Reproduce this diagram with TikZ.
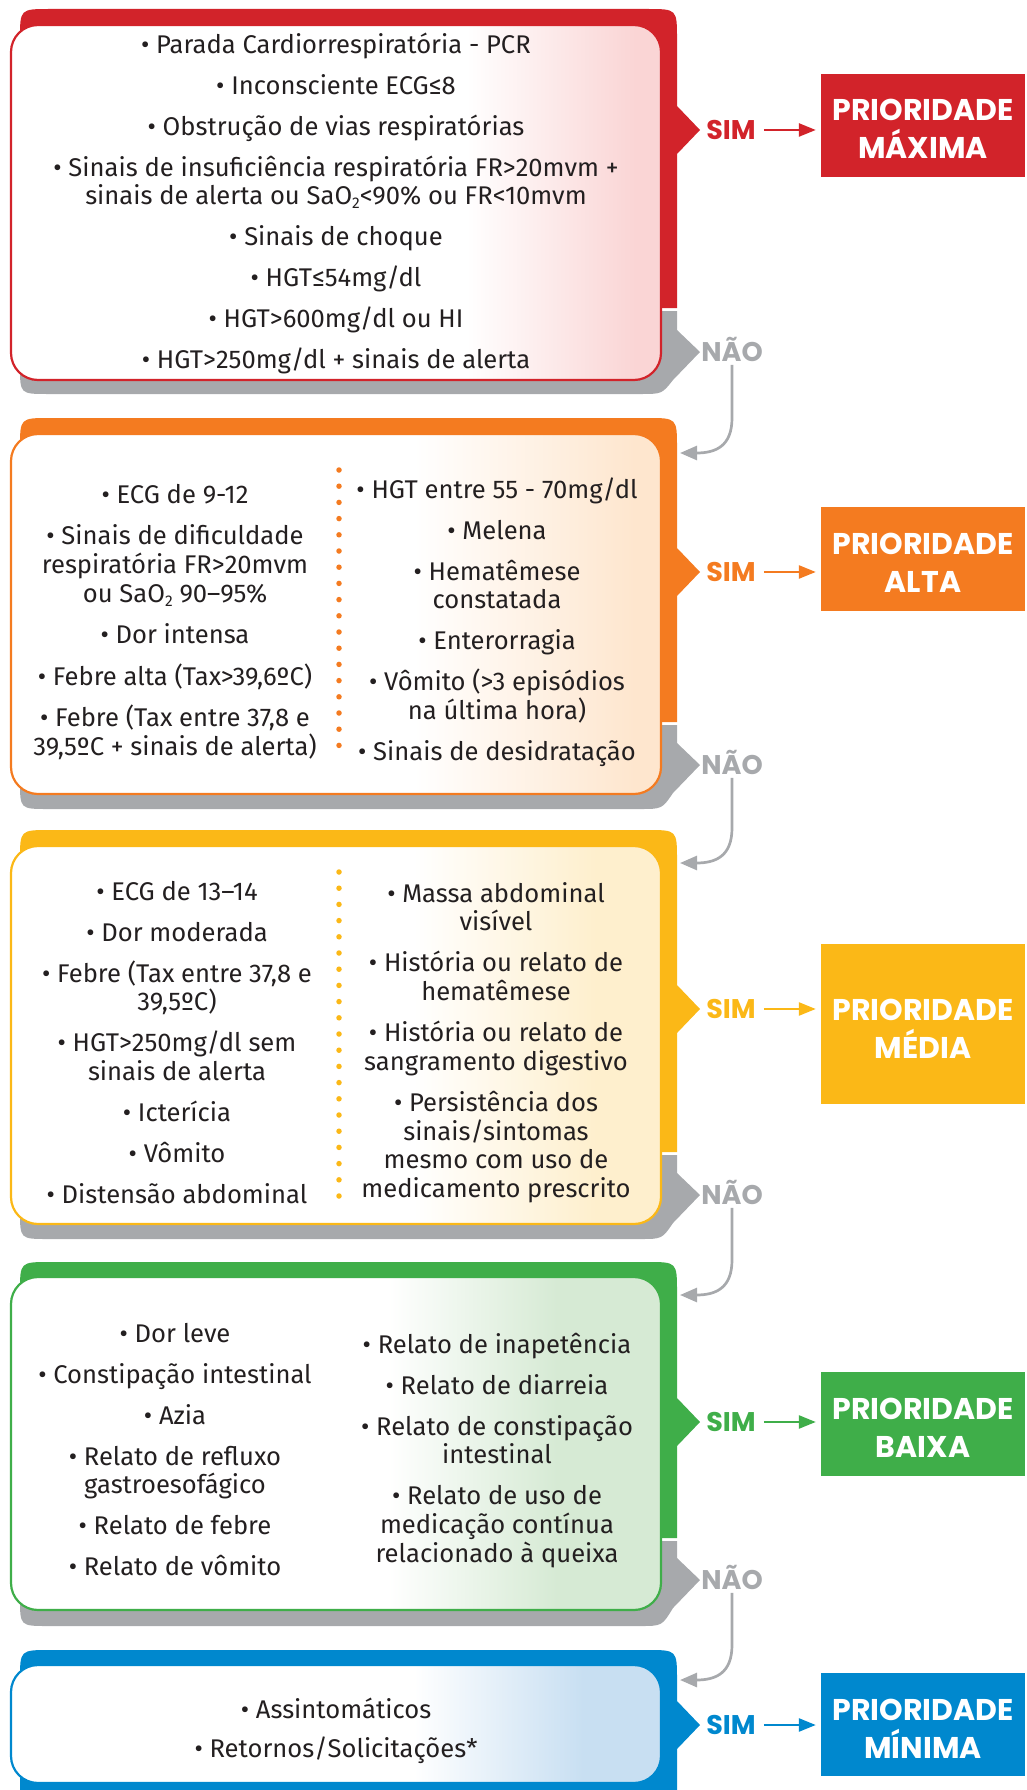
\documentclass[tikz,border=0pt]{standalone}
\usepackage{fontspec}
\setmainfont{Fira Sans}
\newfontfamily\popfam{Poppins}
\usetikzlibrary{arrows.meta}
\definecolor{redc}{HTML}{D2232A}
\definecolor{orangec}{HTML}{F47B20}
\definecolor{yellowc}{HTML}{FBB817}
\definecolor{greenc}{HTML}{3FAE49}
\definecolor{bluec}{HTML}{0088CE}
\definecolor{greyc}{HTML}{A7A9AC}
\definecolor{txt}{HTML}{231F20}
\definecolor{tred}{HTML}{FAD5D5}
\definecolor{torange}{HTML}{FEE6CE}
\definecolor{tyellow}{HTML}{FEEFCD}
\definecolor{tgreen}{HTML}{D6EAD4}
\definecolor{tblue}{HTML}{C8DFF2}
\pgfdeclarehorizontalshading{shred}{100bp}{color(0bp)=(white); color(60bp)=(white); color(73bp)=(tred); color(100bp)=(tred)}
\pgfdeclarehorizontalshading{shorange}{100bp}{color(0bp)=(white); color(56bp)=(white); color(73bp)=(torange); color(100bp)=(torange)}
\pgfdeclarehorizontalshading{shyellow}{100bp}{color(0bp)=(white); color(56bp)=(white); color(70bp)=(tyellow); color(100bp)=(tyellow)}
\pgfdeclarehorizontalshading{shgreen}{100bp}{color(0bp)=(white); color(54bp)=(white); color(67bp)=(tgreen); color(100bp)=(tgreen)}
\pgfdeclarehorizontalshading{shblue}{100bp}{color(0bp)=(white); color(56bp)=(white); color(69bp)=(tblue); color(100bp)=(tblue)}
\newcommand\bodyfont{\fontsize{25.6}{28.7}\selectfont}
\newcommand\lblfont{\popfam\bfseries\fontsize{27}{30}\selectfont}
\newcommand\priofont{\popfam\bfseries\fontsize{30}{38}\selectfont}
\newcommand\subtwo{\raisebox{-4pt}{\fontsize{15.5}{15.5}\selectfont 2}}
\newcommand\fr{\rule{0pt}{22pt}}
% back shape: #1 colour, #2 top, #3 split, #4 sim y, #5 nao y, #6 bottom
\newcommand\backshape[6]{%
  \fill[#1] (20,#3) -- (20,#2+30) .. controls (20,#2) .. (50,#2) -- (647,#2)
    .. controls (677,#2) .. (677,#2+30) -- (677,#4-24) -- (700,#4) -- (677,#4+24) -- (677,#3) -- cycle;
  \fill[greyc] (20,#3+3) -- (677,#3+3) -- (677,#5-22) -- (700,#5) -- (673,#5+28)
    .. controls (662,#6) .. (640,#6) -- (48,#6) .. controls (20,#6) .. (20,#6-28) -- cycle;
}
\begin{document}
\begin{tikzpicture}[x=1pt,y=-1pt,
  col/.style={align=center, inner sep=0pt, anchor=north, text=txt, font=\bodyfont},
  simlbl/.style={inner sep=0pt, anchor=base, font=\lblfont, text=#1},
  naolbl/.style={inner sep=0pt, anchor=base, font=\lblfont, text=greyc},
  prio/.style={fill=#1, text=white, font=\priofont, align=center, minimum width=204pt, inner sep=0pt},
  simarr/.style={draw=#1, line width=2.5pt, -{Triangle[length=17pt,width=13pt]}, shorten <=8pt, shorten >=5pt},
  naoarr/.style={draw=greyc, line width=2.7pt, -{Triangle[length=17pt,width=14pt]}, shorten <=3pt},
  dotline/.style={draw=#1, line width=5.5pt, line cap=round, dash pattern=on 0pt off 16.2pt},
  inbox/.style={line width=2.2pt, rounded corners=27pt}]
\useasboundingbox (0,0) rectangle (1026,1790);
\clip (0,0) rectangle (1026,1790);

% ---------- back shapes ----------
\backshape{redc}{9}{308}{130}{352}{394}
\backshape{orangec}{418}{722}{572}{765}{809}
\backshape{yellowc}{830}{1152}{1009}{1195}{1239}
\backshape{greenc}{1262}{1538}{1422}{1580}{1626}
\fill[bluec] (20,1800) -- (20,1680) .. controls (20,1650) .. (50,1650) -- (647,1650)
  .. controls (677,1650) .. (677,1680) -- (677,1701) -- (700,1725) -- (677,1749) -- (677,1800) -- cycle;

% ---------- inner boxes ----------
\shadedraw[shading=shred, draw=redc, inbox] (11,25) rectangle (661,380);
\shadedraw[shading=shorange, draw=orangec, inbox] (11,434) rectangle (661,794);
\shadedraw[shading=shyellow, draw=yellowc, inbox] (11,846) rectangle (661,1224);
\shadedraw[shading=shgreen, draw=greenc, inbox] (11,1277) rectangle (661,1610);
\shadedraw[shading=shblue, draw=bluec, inbox] (11,1665) rectangle (661,1783);

% ---------- dotted separators ----------
\draw[dotline=orangec] (339,470) -- (339,757);
\draw[dotline=yellowc] (339,872) -- (339,1208);

% ---------- texts ----------
\node[col] (c1) at (336,31) {\fr• Parada Cardiorrespiratória - PCR\\[12.3pt]
• Inconsciente ECG≤8\\[12.3pt]
• Obstrução de vias respiratórias\\[12.3pt]
• Sinais de insuficiência respiratória FR>20mvm +\\
sinais de alerta ou SaO\subtwo<90\% ou FR<10mvm\\[12.3pt]
• Sinais de choque\\[12.3pt]
• HGT≤54mg/dl\\[12.3pt]
• HGT>600mg/dl ou HI\\[12.3pt]
• HGT>250mg/dl + sinais de alerta};

\node[col] (c2l) at (175,481) {\fr• ECG de 9-12\\[12.8pt]
• Sinais de dificuldade\\
respiratória FR>20mvm\\
ou SaO\subtwo{} 90–95\%\\[12.8pt]
• Dor intensa\\[12.8pt]
• Febre alta (Tax>39,6ºC)\\[12.8pt]
• Febre (Tax entre 37,8 e\\
39,5ºC + sinais de alerta)};

\node[col] (c2r) at (497,476) {\fr• HGT entre 55 - 70mg/dl\\[12.3pt]
• Melena\\[12.3pt]
• Hematêmese\\
constatada\\[12.3pt]
• Enterorragia\\[12.3pt]
• Vômito (>3 episódios\\
na última hora)\\[12.3pt]
• Sinais de desidratação};

\node[col] (c3l) at (177,878) {\fr• ECG de 13–14\\[12.3pt]
• Dor moderada\\[12.3pt]
• Febre (Tax entre 37,8 e\\
39,5ºC)\\[12.3pt]
• HGT>250mg/dl sem\\
sinais de alerta\\[12.3pt]
• Icterícia\\[12.3pt]
• Vômito\\[12.3pt]
• Distensão abdominal};

\node[col] (c3r) at (496,880) {\fr• Massa abdominal\\
visível\\[12.3pt]
• História ou relato de\\
hematêmese\\[12.3pt]
• História ou relato de\\
sangramento digestivo\\[12.3pt]
• Persistência dos\\
sinais/sintomas\\
mesmo com uso de\\
medicamento prescrito};

\node[col] (c4l) at (175,1320) {\fr• Dor leve\\[12.3pt]
• Constipação intestinal\\[12.3pt]
• Azia\\[12.3pt]
• Relato de refluxo\\
gastroesofágico\\[12.3pt]
• Relato de febre\\[12.3pt]
• Relato de vômito};

\node[col] (c4r) at (497,1331) {\fr• Relato de inapetência\\[12.3pt]
• Relato de diarreia\\[12.3pt]
• Relato de constipação\\
intestinal\\[12.3pt]
• Relato de uso de\\
medicação contínua\\
relacionado à queixa};

\node[col] (c5) at (336,1696) {\fr• Assintomáticos\\[10.3pt]
• Retornos/Solicitações*};

% ---------- priority boxes ----------
\node[prio=redc, minimum height=103pt] (p1) at (923,125.5) {\rule{0pt}{29pt}PRIORIDADE\\MÁXIMA};
\node[prio=orangec, minimum height=104pt] (p2) at (923,559) {\rule{0pt}{29pt}PRIORIDADE\\ALTA};
\node[prio=yellowc, minimum height=160pt] (p3) at (923,1024) {\rule{0pt}{30pt}PRIORIDADE\\MÉDIA};
\node[prio=greenc, minimum height=104pt] (p4) at (923,1424) {\rule{0pt}{29pt}PRIORIDADE\\BAIXA};
\node[prio=bluec, minimum height=103pt] (p5) at (923,1724.5) {\rule{0pt}{29pt}PRIORIDADE\\MÍNIMA};

% ---------- SIM labels and arrows ----------
\node[simlbl=redc] (s1) at (731,139.5) {SIM};
\node[simlbl=orangec] (s2) at (731,581.5) {SIM};
\node[simlbl=yellowc] (s3) at (731,1018.5) {SIM};
\node[simlbl=greenc] (s4) at (731,1431.5) {SIM};
\node[simlbl=bluec] (s5) at (731,1734.5) {SIM};
\draw[simarr=redc] (s1.east) -- (s1.east -| p1.west);
\draw[simarr=orangec] (s2.east) -- (s2.east -| p2.west);
\draw[simarr=yellowc] (s3.east) -- (s3.east -| p3.west);
\draw[simarr=greenc] (s4.east) -- (s4.east -| p4.west);
\draw[simarr=bluec] (s5.east) -- (s5.east -| p5.west);

% ---------- NAO labels and arrows ----------
\node[naolbl] (n1) at (732,361.5) {NÃO};
\node[naolbl] (n2) at (732,774.5) {NÃO};
\node[naolbl] (n3) at (732,1204.5) {NÃO};
\node[naolbl] (n4) at (732,1589.5) {NÃO};
\coordinate (in2) at (680,453);
\coordinate (in3) at (680,863);
\coordinate (in4) at (680,1295);
\coordinate (in5) at (680,1680);
\draw[naoarr] (n1.south) -- (732,418) .. controls (732,446) and (716,453) .. (in2);
\draw[naoarr] (n2.south) -- (732,828) .. controls (732,856) and (716,863) .. (in3);
\draw[naoarr] (n3.south) -- (732,1260) .. controls (732,1288) and (716,1295) .. (in4);
\draw[naoarr] (n4.south) -- (732,1645) .. controls (732,1673) and (716,1680) .. (in5);
\end{tikzpicture}
\end{document}
